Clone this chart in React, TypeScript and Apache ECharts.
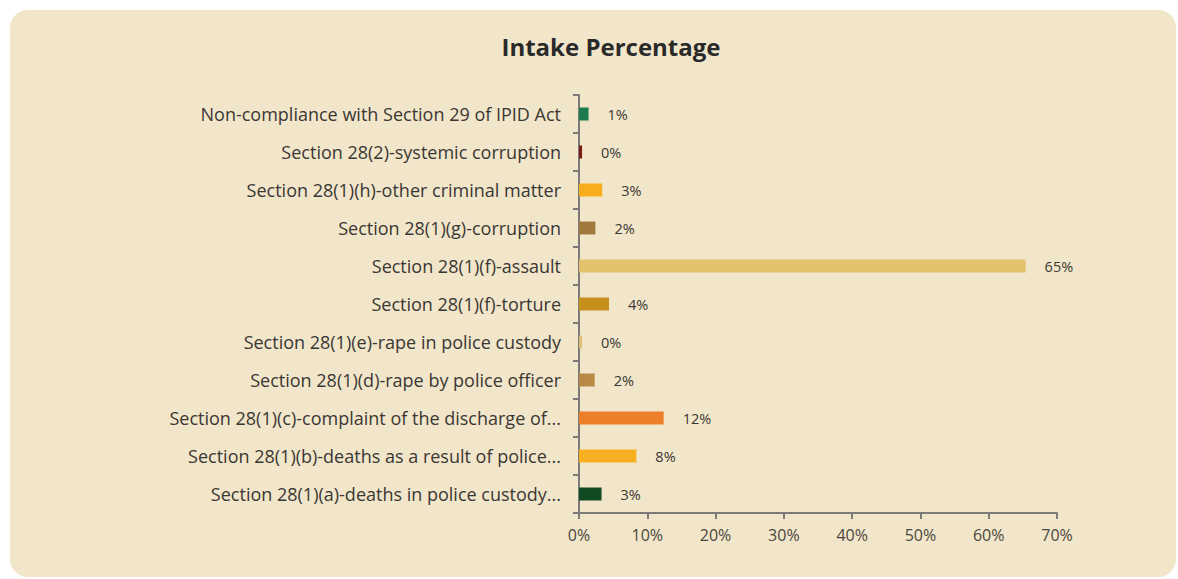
import React, { useEffect, useRef } from "react";
import * as echarts from "echarts";

const categories: string[] = [
  "Non-compliance with Section 29 of IPID Act",
  "Section 28(2)-systemic corruption",
  "Section 28(1)(h)-other criminal matter",
  "Section 28(1)(g)-corruption",
  "Section 28(1)(f)-assault",
  "Section 28(1)(f)-torture",
  "Section 28(1)(e)-rape in police custody",
  "Section 28(1)(d)-rape by police officer",
  "Section 28(1)(c)-complaint of the discharge of...",
  "Section 28(1)(b)-deaths as a result of police...",
  "Section 28(1)(a)-deaths in police custody...",
];

// intake percentages (labels show rounded values)
const intakePct: number[] = [1.4, 0.45, 3.4, 2.4, 65.4, 4.4, 0.45, 2.3, 12.4, 8.4, 3.3];

const barColors: string[] = [
  "#1d7a4b",
  "#7a1b12",
  "#f7ad1d",
  "#a27a3d",
  "#e2c26c",
  "#c68f1c",
  "#dcc07a",
  "#b88a45",
  "#ee7f2a",
  "#f9af22",
  "#0f4a22",
];

const xTicks = { min: 0, max: 70, interval: 10 };
const title = "Intake Percentage";

export default function App() {
  const ref = useRef<HTMLDivElement>(null);
  useEffect(() => {
    if (!ref.current) return;
    const chart = echarts.init(ref.current, null, { renderer: "svg" });
    const font = "'Open Sans', sans-serif";
    chart.setOption({
      animation: false,
      backgroundColor: "#ffffff",
      graphic: [
        {
          type: "rect",
          z: -10,
          shape: { x: 10, y: 10, width: 1166, height: 567, r: 18 },
          style: { fill: "#f2e6ca" },
        },
      ],
      title: {
        text: title,
        left: 606,
        top: 29,
        textAlign: "center",
        textStyle: { fontFamily: font, fontWeight: "bold", fontSize: 24, color: "#2a2a2a" },
      },
      grid: { left: 579, right: 121, top: 95, bottom: 66, containLabel: false },
      xAxis: {
        type: "value",
        min: xTicks.min,
        max: xTicks.max,
        interval: xTicks.interval,
        splitLine: { show: false },
        axisLine: { show: true, lineStyle: { color: "#7d7b78", width: 2 } },
        axisTick: { show: true, length: 6, lineStyle: { color: "#7d7b78", width: 2 } },
        axisLabel: {
          formatter: (v: number) => v + "%",
          fontFamily: font,
          fontSize: 16,
          color: "#4a4640",
          margin: 14,
        },
      },
      yAxis: {
        type: "category",
        inverse: true,
        data: categories,
        axisLine: { show: true, lineStyle: { color: "#7d7b78", width: 2 } },
        axisTick: { show: true, length: 6, lineStyle: { color: "#7d7b78", width: 2 } },
        axisLabel: {
          fontFamily: font,
          fontSize: 18,
          color: "#3a3734",
          margin: 18,
        },
      },
      series: [
        {
          type: "bar",
          data: intakePct.map((v, i) => ({ value: v, itemStyle: { color: barColors[i] } })),
          barWidth: 13,
          label: {
            show: true,
            position: "right",
            distance: 19,
            formatter: (p: any) => Math.round(p.value) + "%",
            fontFamily: font,
            fontSize: 14.5,
            color: "#3a3734",
          },
        },
      ],
    });
    return () => chart.dispose();
  }, []);
  return (
    <div
      ref={ref}
      style={{ position: "fixed", left: 0, top: 0, width: 1178, height: 579 }}
    />
  );
}
